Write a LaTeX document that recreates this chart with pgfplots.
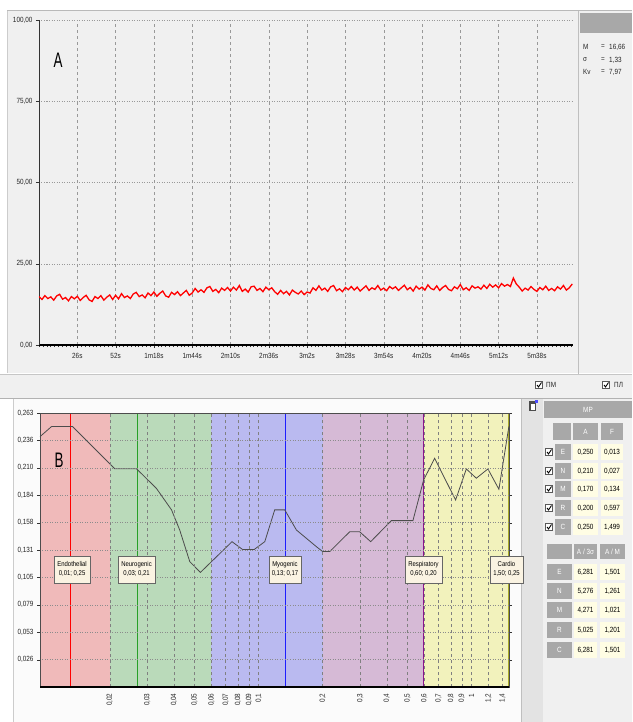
\documentclass[border=0pt]{standalone}
\usepackage{fontspec}
\setmainfont{Liberation Sans}[FakeStretch=0.85]
\usepackage{pgfplots}
\pgfplotsset{compat=1.18}

\definecolor{panel}{RGB}{240,240,240}
\definecolor{hdr}{RGB}{168,168,168}
\definecolor{cream}{RGB}{255,253,228}
\definecolor{lblbox}{RGB}{250,243,226}
\definecolor{bE}{RGB}{240,186,186}
\definecolor{bN}{RGB}{186,218,186}
\definecolor{bM}{RGB}{186,186,240}
\definecolor{bR}{RGB}{214,186,214}
\definecolor{bC}{RGB}{242,242,188}
\definecolor{olive2}{RGB}{170,170,40}
\definecolor{lnN}{RGB}{40,160,40}
\definecolor{lnM}{RGB}{30,30,255}
\definecolor{lnR}{RGB}{140,20,140}

\newcommand{\tf}{\fontsize{7.5}{8}\selectfont}
% checkbox at pixel position
\newcommand{\chk}[2]{%
  \draw[gray!70!black, fill=white] (#1-3.5,#2-3.5) rectangle (#1+3.5,#2+3.5);
  \draw[black, line width=0.9pt] (#1-2,#2) -- (#1-0.5,#2+2) -- (#1+2.5,#2-2.5);}
% table cell: fill, x1, y1, x2, y2, text colour, text
\newcommand{\cell}[7]{%
  \fill[#1] (#2,#3) rectangle (#4,#5);
  \node[font=\tf, text=#6, inner sep=0pt] at ({(#2+#4)/2},{(#3+#5)/2}) {#7};}
\newcommand{\rowA}[4]{%
  \chk{549}{#1}
  \cell{hdr}{555}{#1-8}{571}{#1+8}{white}{#2}
  \cell{cream}{573}{#1-8}{598}{#1+8}{black}{#3}
  \cell{cream}{601}{#1-8}{623}{#1+8}{black}{#4}}
\newcommand{\rowB}[4]{%
  \cell{hdr}{547}{#1-8}{572}{#1+8}{white}{#2}
  \cell{cream}{574}{#1-8}{597}{#1+8}{black}{#3}
  \cell{cream}{600}{#1-8}{625}{#1+8}{black}{#4}}

\begin{document}
\begin{tikzpicture}
\begin{scope}[x=1pt,y=-1pt]
  \fill[white] (0,0) rectangle (632,722);
  % panel A
  \fill[panel] (7,11) rectangle (632,373);
  \draw[gray!55, line width=1pt] (7,11) -- (632,11);
  \draw[gray!40] (7,11) -- (7,373);
  \draw[gray!50] (578,11) -- (578,375);
  \fill[hdr] (580,13) rectangle (632,33);
  % strip between panels
  \fill[gray!12] (0,375) rectangle (632,398);
  \draw[gray!45] (0,374.5) -- (632,374.5);
  \draw[gray!60] (0,398) -- (632,398);
  % panel B
  \fill[white!97!gray] (13,399) rectangle (521,722);
  \draw[gray!40] (13,399) -- (13,722);
  \fill[gray!22] (521,399) rectangle (543,722);
  \draw[gray!50] (521,399) -- (521,722);
  \fill[panel] (543,399) rectangle (632,722);
\end{scope}

\begin{axis}[
  at={(39pt,-345pt)}, anchor=south west, scale only axis,
  width=534pt, height=325pt,
  xmin=0, xmax=362.5, ymin=0, ymax=100,
  axis x line*=bottom, axis y line*=left,
  x axis line style={line width=1.6pt, black, -},
  y axis line style={line width=0.8pt, black!80, -},
  xtick={26,52,78,104,130,156,182,208,234,260,286,312,338},
  xticklabels={26s,52s,1m18s,1m44s,2m10s,2m36s,3m2s,3m28s,3m54s,4m20s,4m46s,5m12s,5m38s},
  minor xtick={0,2.6,...,361},
  ytick={0,25,50,75,100},
  yticklabels={{0,00},{25,00},{50,00},{75,00},{100,00}},
  tick align=outside,
  major tick length=3pt, minor tick length=2pt,
  tick style={black!80},
  xmajorgrids, ymajorgrids,
  x grid style={gray!80, dash pattern=on 3pt off 3pt, line width=0.4pt},
  y grid style={gray!80, dash pattern=on 1pt off 1.5pt, line width=0.5pt},
  tick label style={font=\tf, black!85},
  xticklabel style={yshift=-2pt},
  /pgf/number format/assume math mode=true,
]
\addplot[red, line width=1.3pt] coordinates {
(0,14.9)(2,14.0)(4,15.2)(6,14.3)(8,14.8)(10,13.8)(12,15.1)(14,15.6)(16,14.1)(18,14.6)(20,13.6)(22,14.9)(24,14.2)
(26,15.0)(28,13.7)(30,14.6)(32,15.3)(34,13.9)(36,13.4)(38,14.9)(40,14.3)(42,15.2)(44,13.8)(46,14.7)(48,15.4)(50,14.0)
(52,15.3)(54,14.2)(56,15.8)(58,14.6)(60,15.1)(62,14.3)(64,15.7)(66,16.2)(68,14.9)(70,15.4)(72,14.5)(74,16.0)(76,15.2)
(78,16.3)(80,15.0)(82,15.9)(84,16.6)(86,15.1)(88,14.7)(90,16.2)(92,15.5)(94,16.4)(96,15.2)(98,16.0)(100,16.8)(102,15.3)
(104,16.0)(106,17.4)(108,16.3)(110,17.0)(112,16.2)(114,17.6)(116,18.0)(118,16.5)(120,17.1)(122,16.1)(124,17.5)(126,16.8)(128,17.7)
(130,16.6)(132,17.8)(134,16.9)(136,18.3)(138,16.5)(140,17.2)(142,16.3)(144,17.9)(146,18.1)(148,16.8)(150,17.4)(152,16.4)(154,17.8)(156,17.0)(158,17.6)
(160,16.4)(162,15.6)(164,16.8)(166,15.8)(168,16.5)(170,15.4)(172,16.9)(174,16.2)(176,15.7)(178,16.6)(180,15.5)(182,16.3)(184,16.0)
(186,17.6)(188,16.8)(190,18.2)(192,16.9)(194,17.5)(196,16.5)(198,17.9)(200,18.3)(202,16.7)(204,17.3)(206,16.4)(208,17.7)(210,17.0)
(212,18.0)(214,16.9)(216,17.8)(218,16.6)(220,17.4)(222,18.2)(224,16.8)(226,17.6)(228,17.1)(230,18.3)(232,16.9)(234,17.5)(236,16.7)(238,18.0)(240,17.3)
(242,17.9)(244,16.8)(246,17.6)(248,18.4)(250,17.0)(252,17.7)(254,16.6)(256,18.1)(258,17.2)(260,17.8)(262,16.9)(264,18.5)(266,17.4)(268,17.0)(270,18.2)
(272,16.8)(274,17.7)(276,18.3)(278,17.1)(280,16.7)(282,17.9)(284,17.3)(286,18.6)(288,17.0)(290,17.6)(292,16.8)(294,18.2)(296,17.5)(298,17.9)(300,17.2)
(302,18.4)(304,17.4)(306,18.7)(308,17.8)(310,18.5)(312,17.6)(314,18.9)(316,18.1)(318,18.6)(320,18.0)(322,20.6)(324,18.8)
(326,17.8)(328,16.6)(330,17.5)(332,16.9)(334,18.0)(336,17.1)(338,16.5)(340,17.7)(342,17.0)(344,18.1)(346,16.8)(348,17.4)(350,16.7)(352,17.9)(354,17.2)(356,18.3)(358,16.9)(360,17.6)(362,18.8)
};
\end{axis}

\begin{axis}[
  at={(40pt,-687pt)}, anchor=south west, scale only axis,
  width=469pt, height=274pt,
  axis on top,
  xmode=log, xmin=0.0094, xmax=1.5, ymin=0, ymax=0.263,
  axis line style={black!70, line width=0.7pt},
  xtick={0.02,0.03,0.04,0.05,0.06,0.07,0.08,0.09,0.1,0.2,0.3,0.4,0.5,0.6,0.7,0.8,0.9,1,1.2,1.4},
  xticklabels={{0,02},{0,03},{0,04},{0,05},{0,06},{0,07},{0,08},{0,09},{0,1},{0,2},{0,3},{0,4},{0,5},{0,6},{0,7},{0,8},{0,9},1,{1,2},{1,4}},
  minor x tick num=0,
  x tick style={draw=none},
  xticklabel style={rotate=90, anchor=east},
  ytick={0.0263,0.0526,0.0789,0.1052,0.1315,0.1578,0.1841,0.2104,0.2367,0.263},
  yticklabels={{0,026},{0,053},{0,079},{0,105},{0,131},{0,158},{0,184},{0,210},{0,236},{0,263}},
  tick align=outside, major tick length=3pt,
  y tick style={black!80},
  xmajorgrids, ymajorgrids,
  x grid style={black!50, dash pattern=on 3pt off 3pt, line width=0.4pt},
  y grid style={black!45, dash pattern=on 1pt off 1.5pt, line width=0.5pt},
  tick label style={font=\tf, black!85},
  /pgf/number format/assume math mode=true,
]
\addplot[fill=bE, draw=none] coordinates {(0.0094,0.263) (0.02,0.263)} \closedcycle;
\addplot[fill=bN, draw=none] coordinates {(0.02,0.263) (0.06,0.263)} \closedcycle;
\addplot[fill=bM, draw=none] coordinates {(0.06,0.263) (0.2,0.263)} \closedcycle;
\addplot[fill=bR, draw=none] coordinates {(0.2,0.263) (0.6,0.263)} \closedcycle;
\addplot[fill=bC, draw=none] coordinates {(0.6,0.263) (1.5,0.263)} \closedcycle;

\addplot[red, line width=0.9pt] coordinates {(0.013,0) (0.013,0.263)};
\addplot[lnN, line width=0.9pt] coordinates {(0.027,0) (0.027,0.263)};
\addplot[lnM, line width=0.9pt] coordinates {(0.134,0) (0.134,0.263)};
\addplot[lnR, line width=0.9pt] coordinates {(0.597,0) (0.597,0.263)};
\addplot[olive2, line width=1pt] coordinates {(1.497,0) (1.497,0.263)};

\addplot[black!70, line width=0.8pt] coordinates {
(0.0094,0.2403)(0.01065,0.250)(0.01336,0.250)(0.02111,0.2095)(0.02669,0.2095)
(0.0331,0.1907)(0.0390,0.170)(0.0426,0.1507)(0.0475,0.1203)(0.0533,0.110)
(0.0750,0.1395)(0.0842,0.1319)(0.0952,0.1319)(0.1069,0.1395)(0.1190,0.170)
(0.1327,0.170)(0.1505,0.1507)(0.1868,0.1347)(0.200,0.130)(0.2158,0.130)
(0.2678,0.149)(0.2983,0.149)(0.3361,0.1395)(0.4202,0.1597)(0.5307,0.1597)
(0.5958,0.1987)(0.6711,0.2195)(0.842,0.1795)(0.9454,0.2093)(1.0534,0.2004)
(1.194,0.2093)(1.345,0.1898)(1.498,0.250)
};
\coordinate (lE) at (axis cs:0.0133,0.113);
\coordinate (lN) at (axis cs:0.0267,0.113);
\coordinate (lM) at (axis cs:0.133,0.113);
\coordinate (lR) at (axis cs:0.595,0.113);
\coordinate (lC) at (axis cs:1.46,0.113);
\coordinate (bl) at (rel axis cs:0,0);
\coordinate (br) at (rel axis cs:1,0);
\end{axis}
\draw[black, line width=1.6pt] (bl) -- (br);
\tikzset{lbl/.style={draw=gray!80!black, fill=lblbox, align=center,
  font=\fontsize{7}{9}\selectfont, inner xsep=3pt, inner ysep=3pt, minimum height=27pt}}
\node[lbl] at (lE) {Endothelial\\0,01; 0,25};
\node[lbl] at (lN) {Neurogenic\\0,03; 0,21};
\node[lbl] at (lM) {Myogenic\\0,13; 0,17};
\node[lbl] at (lR) {Respiratory\\0,60; 0,20};
\node[lbl] at (lC) {Cardio\\1,50; 0,25};

\begin{scope}[x=1pt,y=-1pt]
  % panel letters
  \node at (58,60) {\scalebox{0.75}[1]{\fontsize{21}{21}\selectfont A}};
  \node at (59,460) {\scalebox{0.75}[1]{\fontsize{21}{21}\selectfont B}};
  % stats A
  \begin{scope}[every node/.style={font=\tf, inner sep=0pt, anchor=west, text=black!85}]
    \node at (583,47) {M};  \node at (601,47) {=}; \node at (609,47) {16,66};
    \node at (583,60) {σ};  \node at (601,60) {=}; \node at (609,60) {1,33};
    \node at (583,72) {Kv}; \node at (601,72) {=}; \node at (609,72) {7,97};
    \node at (546,385) {ПМ}; \node at (614,385) {ПЛ};
  \end{scope}
  \chk{539}{385}
  \chk{606}{385}
  % icon
  \fill[gray!60!black] (529,401) rectangle (536,411);
  \fill[white] (530.5,404) rectangle (534.5,410);
  \fill[blue!70] (535,400) rectangle (538,403);
  % table MP
  \cell{hdr}{544}{401}{632}{418}{white}{МР}
  \cell{hdr}{553}{423}{571}{440}{white}{}
  \cell{hdr}{573}{423}{598}{440}{white}{A}
  \cell{hdr}{601}{423}{623}{440}{white}{F}
  \rowA{452}{E}{0,250}{0,013}
  \rowA{471}{N}{0,210}{0,027}
  \rowA{489}{M}{0,170}{0,134}
  \rowA{508}{R}{0,200}{0,597}
  \rowA{527}{C}{0,250}{1,499}
  \cell{hdr}{547}{544}{572}{559}{white}{}
  \cell{hdr}{574}{544}{597}{559}{white}{A / 3σ}
  \cell{hdr}{600}{544}{625}{559}{white}{A / M}
  \rowB{572}{E}{6,281}{1,501}
  \rowB{591}{N}{5,276}{1,261}
  \rowB{610}{M}{4,271}{1,021}
  \rowB{630}{R}{5,025}{1,201}
  \rowB{650}{C}{6,281}{1,501}
\end{scope}
\pgfresetboundingbox
\path[use as bounding box] (0pt,0pt) rectangle (632pt,-722pt);
\end{tikzpicture}
\end{document}
